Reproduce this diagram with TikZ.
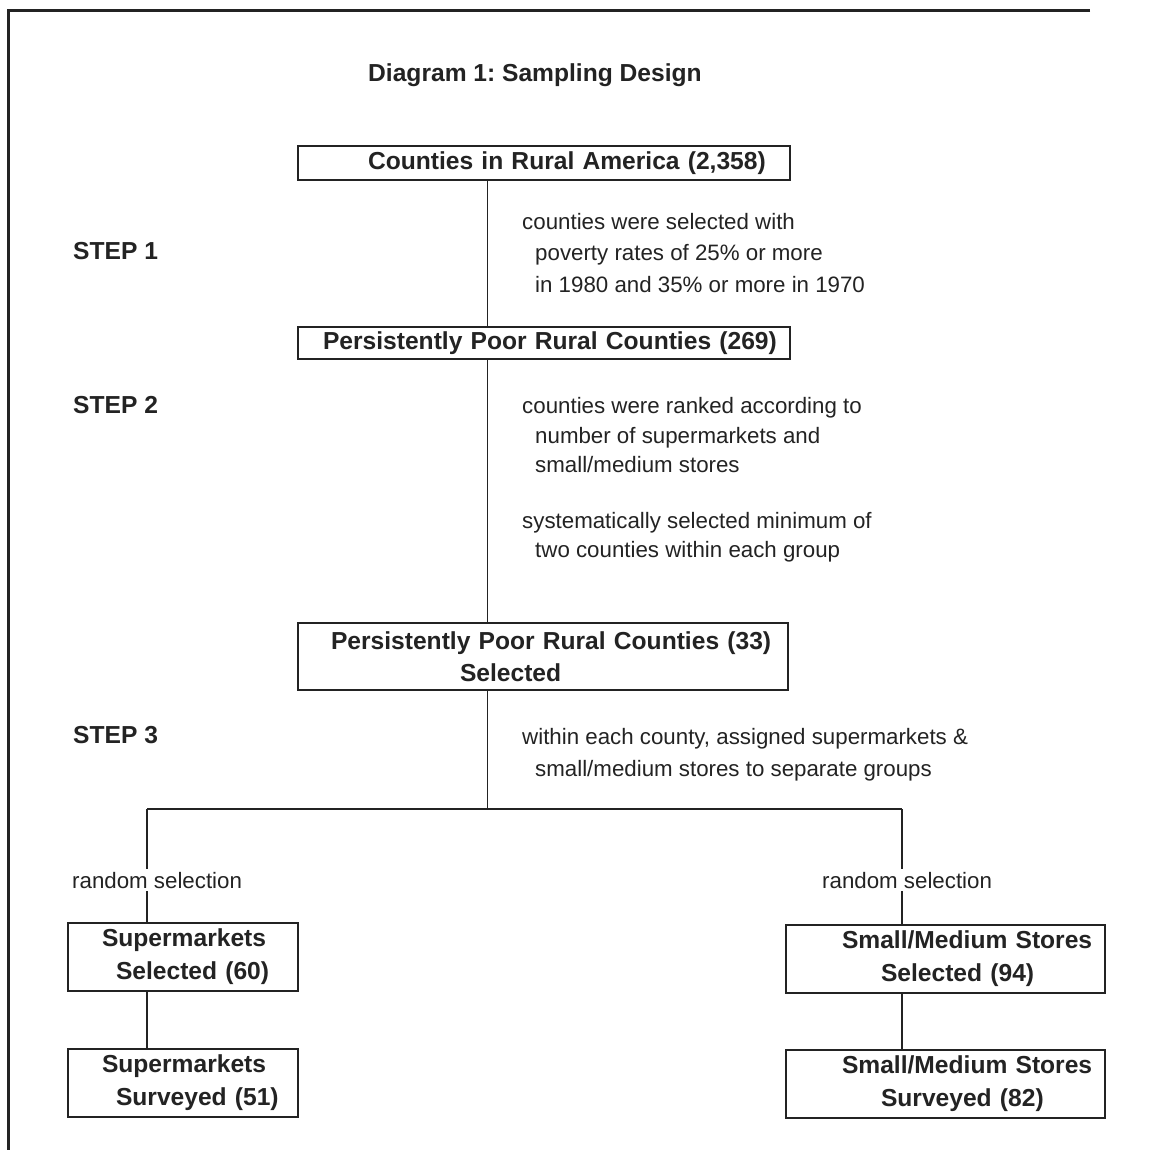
\documentclass[tikz,border=0pt]{standalone}
\usepackage{fontspec}
\setmainfont{Liberation Sans}
\definecolor{ink}{RGB}{35,35,35}
\frenchspacing
\begin{document}
\begin{tikzpicture}[x=1pt,y=-1pt,
  every node/.style={text=ink},
  box/.style={draw=ink, line width=1.5pt, fill=white, rectangle, inner xsep=0pt, inner ysep=2pt, align=left, font=\bfseries\fontsize{24.6}{33}\selectfont},
  ann/.style={anchor=base west, inner sep=0pt, font=\fontsize{22.3}{30}\selectfont},
  head/.style={anchor=base west, inner sep=0pt, font=\bfseries\fontsize{24.6}{30}\selectfont},
  lbl/.style={anchor=base west, inner xsep=0pt, inner ysep=3pt, font=\fontsize{22.3}{30}\selectfont},
  link/.style={draw=ink, line width=1.3pt},
  frame/.style={draw=ink, line width=3pt, line join=miter}]
\useasboundingbox (0,0) rectangle (1153,1150);
\fill[white] (0,0) rectangle (1153,1150);
% frame
\draw[frame] (1090,10.5) -- (8.5,10.5) -- (8.5,1153);

% title and steps
\node[head] (title) at (368,82) {Diagram 1: Sampling Design};
\node[head] (s1) at (73,260) {STEP 1};
\node[head] (s2) at (73,413) {STEP 2};
\node[head] (s3) at (73,743) {STEP 3};

% boxes
\node[box, text width=492, minimum height=34] (b1) at (544,163)
  {\hspace*{70pt}Counties in Rural America (2,358)};
\node[box, text width=492, minimum height=32] (b2) at (544,343)
  {\hspace*{25pt}Persistently Poor Rural Counties (269)};
\node[box, text width=490, minimum height=67, font=\bfseries\fontsize{24.6}{32}\selectfont] (b3) at (543,656.5)
  {\hspace*{33pt}Persistently Poor Rural Counties (33)\\\hspace*{162pt}Selected};
\node[box, text width=230, minimum height=68] (b4) at (183,957)
  {\hspace*{34pt}Supermarkets\\\hspace*{48pt}Selected (60)};
\node[box, text width=230, minimum height=68] (b5) at (183,1083)
  {\hspace*{34pt}Supermarkets\\\hspace*{48pt}Surveyed (51)};
\node[box, text width=319, minimum height=68] (b6) at (945.5,959)
  {\hspace*{56pt}Small/Medium Stores\\\hspace*{95pt}Selected (94)};
\node[box, text width=319, minimum height=68] (b7) at (945.5,1084)
  {\hspace*{56pt}Small/Medium Stores\\\hspace*{95pt}Surveyed (82)};

% annotations
\node[ann] (a11) at (522,230) {counties were selected with};
\node[ann] (a12) at (535,261) {poverty rates of 25\% or more};
\node[ann] (a13) at (535,292) {in 1980 and 35\% or more in 1970};

\node[ann] (a21) at (522,413) {counties were ranked according to};
\node[ann] (a22) at (535,443) {number of supermarkets and};
\node[ann] (a23) at (535,472) {small/medium stores};
\node[ann] (a24) at (522,528) {systematically selected minimum of};
\node[ann] (a25) at (535,557) {two counties within each group};

\node[ann] (a31) at (522,744) {within each county, assigned supermarkets \&};
\node[ann] (a32) at (535,776) {small/medium stores to separate groups};

\node[lbl] (rl) at (72,888) {random selection};
\node[lbl] (rr) at (822,888) {random selection};

% connectors
\coordinate (sp) at (487.5,809);
\coordinate (jl) at (147,809);
\coordinate (jr) at (902,809);
\draw[link] (b1.south -| sp) -- (b2.north -| sp);
\draw[link] (b2.south -| sp) -- (b3.north -| sp);
\draw[link] (b3.south -| sp) -- (sp);
\draw[link] (jl) -- (jr);
\draw[link] (jl) -- (jl |- rl.north);
\draw[link] (jl |- rl.south) -- (jl |- b4.north);
\draw[link] (jl |- b4.south) -- (jl |- b5.north);
\draw[link] (jr) -- (jr |- rr.north);
\draw[link] (jr |- rr.south) -- (jr |- b6.north);
\draw[link] (jr |- b6.south) -- (jr |- b7.north);
\end{tikzpicture}
\end{document}
